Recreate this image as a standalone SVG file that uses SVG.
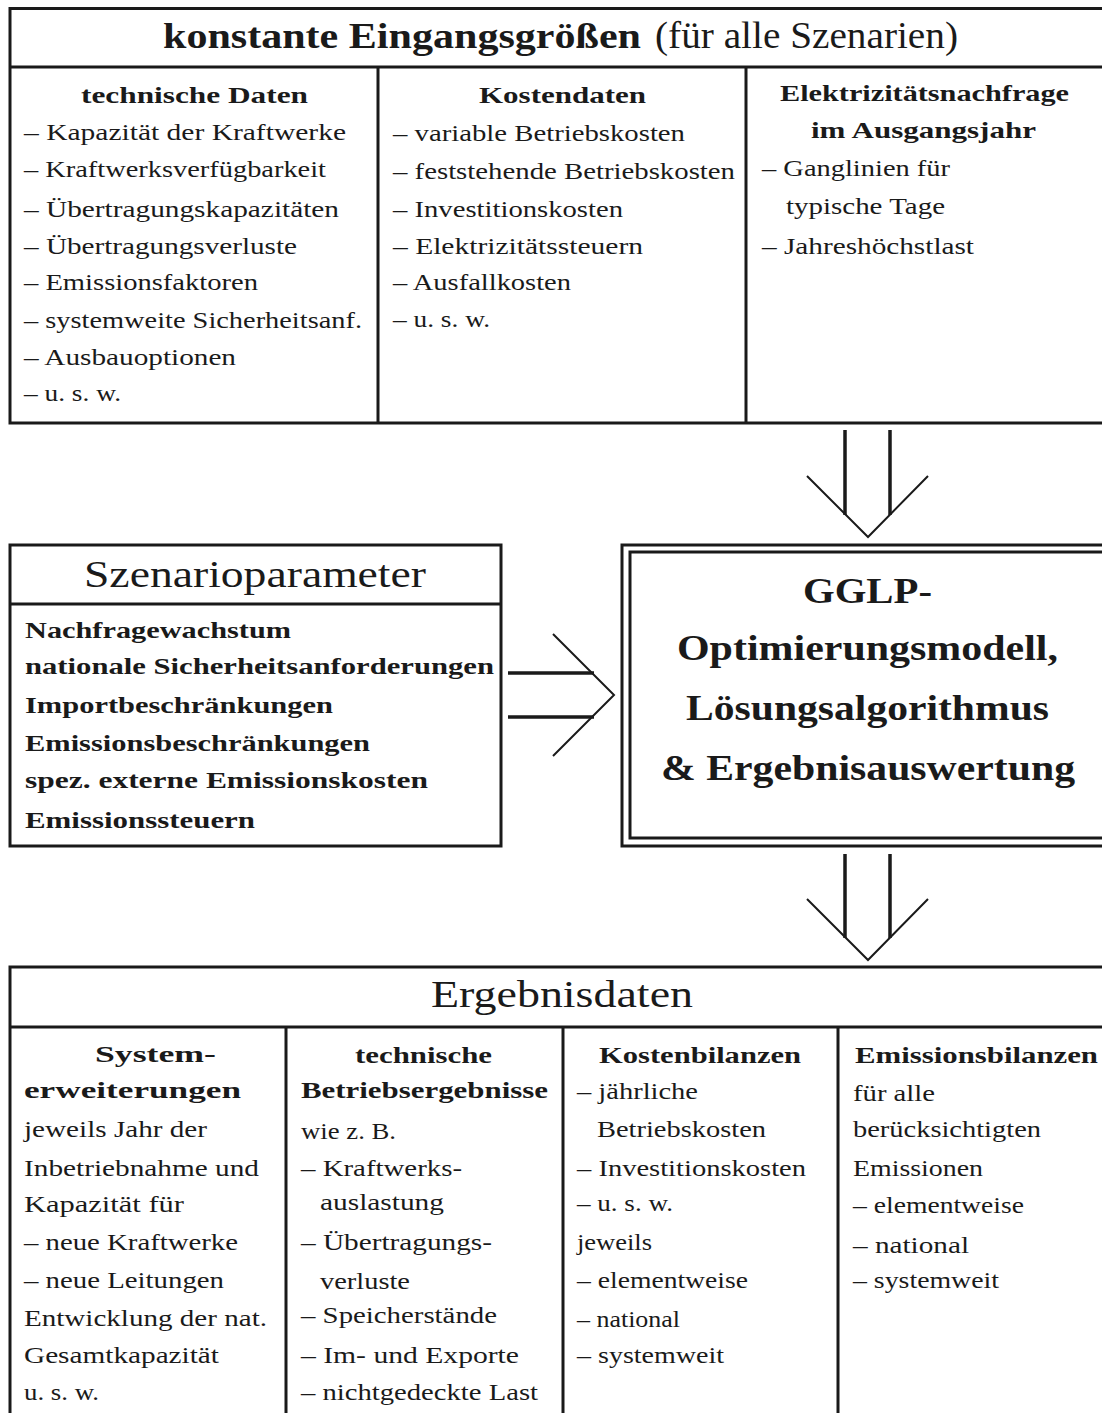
<svg xmlns="http://www.w3.org/2000/svg" width="1102" height="1413" viewBox="0 0 1102 1413">
<style>
.box{fill:none;stroke:#1a1a1a;stroke-width:3}
.thin{fill:none;stroke:#1a1a1a;stroke-width:2}
.shaft{fill:none;stroke:#1a1a1a;stroke-width:3.5}
text{font-family:"Liberation Serif","Times New Roman",serif;fill:#1a1a1a}
.t{font-size:24px}
.b{font-size:24px;font-weight:bold}
.h{font-size:37px}
.hb{font-size:36px;font-weight:bold}
</style>
<rect width="1102" height="1413" fill="#fff"/>

<g id="konstante">
<path class="box" d="M1104,8.5H10V423H1104M10,67H1104M378,67V423M746,67V423"/>
<text x="163" y="48" class="hb" textLength="478" lengthAdjust="spacingAndGlyphs">konstante Eingangsgrößen</text>
<text x="655" y="48" class="h" textLength="303" lengthAdjust="spacingAndGlyphs">(für alle Szenarien)</text>
<text x="81" y="103" class="b" textLength="227" lengthAdjust="spacingAndGlyphs">technische Daten</text>
<text x="24" y="140" class="t" textLength="322" lengthAdjust="spacingAndGlyphs">– Kapazität der Kraftwerke</text>
<text x="24" y="177" class="t" textLength="302" lengthAdjust="spacingAndGlyphs">– Kraftwerksverfügbarkeit</text>
<text x="24" y="217" class="t" textLength="315" lengthAdjust="spacingAndGlyphs">– Übertragungskapazitäten</text>
<text x="24" y="254" class="t" textLength="273" lengthAdjust="spacingAndGlyphs">– Übertragungsverluste</text>
<text x="24" y="290" class="t" textLength="234" lengthAdjust="spacingAndGlyphs">– Emissionsfaktoren</text>
<text x="24" y="328" class="t" textLength="338" lengthAdjust="spacingAndGlyphs">– systemweite Sicherheitsanf.</text>
<text x="24" y="365" class="t" textLength="212" lengthAdjust="spacingAndGlyphs">– Ausbauoptionen</text>
<text x="24" y="401" class="t" textLength="97" lengthAdjust="spacingAndGlyphs">– u. s. w.</text>
<text x="479" y="103" class="b" textLength="167" lengthAdjust="spacingAndGlyphs">Kostendaten</text>
<text x="393" y="141" class="t" textLength="292" lengthAdjust="spacingAndGlyphs">– variable Betriebskosten</text>
<text x="393" y="179" class="t" textLength="342" lengthAdjust="spacingAndGlyphs">– feststehende Betriebskosten</text>
<text x="393" y="217" class="t" textLength="230" lengthAdjust="spacingAndGlyphs">– Investitionskosten</text>
<text x="393" y="254" class="t" textLength="250" lengthAdjust="spacingAndGlyphs">– Elektrizitätssteuern</text>
<text x="393" y="290" class="t" textLength="178" lengthAdjust="spacingAndGlyphs">– Ausfallkosten</text>
<text x="393" y="327" class="t" textLength="97" lengthAdjust="spacingAndGlyphs">– u. s. w.</text>
<text x="780" y="101" class="b" textLength="289" lengthAdjust="spacingAndGlyphs">Elektrizitätsnachfrage</text>
<text x="811" y="138" class="b" textLength="225" lengthAdjust="spacingAndGlyphs">im Ausgangsjahr</text>
<text x="762" y="176" class="t" textLength="188" lengthAdjust="spacingAndGlyphs">– Ganglinien für</text>
<text x="786" y="214" class="t" textLength="159" lengthAdjust="spacingAndGlyphs">typische Tage</text>
<text x="762" y="254" class="t" textLength="212" lengthAdjust="spacingAndGlyphs">– Jahreshöchstlast</text>
</g>

<g id="szenario">
<path class="box" d="M10,545H501V846H10ZM10,604H501"/>
<text x="84" y="587" class="h" textLength="342" lengthAdjust="spacingAndGlyphs">Szenarioparameter</text>
<text x="25" y="638" class="b" textLength="266" lengthAdjust="spacingAndGlyphs">Nachfragewachstum</text>
<text x="25" y="674" class="b" textLength="469" lengthAdjust="spacingAndGlyphs">nationale Sicherheitsanforderungen</text>
<text x="25" y="713" class="b" textLength="308" lengthAdjust="spacingAndGlyphs">Importbeschränkungen</text>
<text x="25" y="751" class="b" textLength="345" lengthAdjust="spacingAndGlyphs">Emissionsbeschränkungen</text>
<text x="25" y="788" class="b" textLength="403" lengthAdjust="spacingAndGlyphs">spez. externe Emissionskosten</text>
<text x="25" y="828" class="b" textLength="230" lengthAdjust="spacingAndGlyphs">Emissionssteuern</text>
</g>

<g id="gglp">
<path class="box" d="M1104,545H622V846H1104M1104,552H630V838H1104"/>
<text x="803" y="603" class="hb" textLength="129" lengthAdjust="spacingAndGlyphs">GGLP-</text>
<text x="677" y="660" class="hb" textLength="381" lengthAdjust="spacingAndGlyphs">Optimierungsmodell,</text>
<text x="686" y="720" class="hb" textLength="363" lengthAdjust="spacingAndGlyphs">Lösungsalgorithmus</text>
<text x="661" y="780" class="hb" textLength="414" lengthAdjust="spacingAndGlyphs">&amp; Ergebnisauswertung</text>
</g>

<g id="ergebnis">
<path class="box" d="M10,1414V967H1104M10,1027H1104M286,1027V1414M563,1027V1414M838,1027V1414"/>
<text x="431" y="1007" class="h" textLength="262" lengthAdjust="spacingAndGlyphs">Ergebnisdaten</text>
<text x="95" y="1062" class="b" textLength="121" lengthAdjust="spacingAndGlyphs">System-</text>
<text x="24" y="1098" class="b" textLength="217" lengthAdjust="spacingAndGlyphs">erweiterungen</text>
<text x="24" y="1137" class="t" textLength="183" lengthAdjust="spacingAndGlyphs">jeweils Jahr der</text>
<text x="24" y="1176" class="t" textLength="235" lengthAdjust="spacingAndGlyphs">Inbetriebnahme und</text>
<text x="24" y="1212" class="t" textLength="160" lengthAdjust="spacingAndGlyphs">Kapazität für</text>
<text x="24" y="1250" class="t" textLength="214" lengthAdjust="spacingAndGlyphs">– neue Kraftwerke</text>
<text x="24" y="1288" class="t" textLength="200" lengthAdjust="spacingAndGlyphs">– neue Leitungen</text>
<text x="24" y="1326" class="t" textLength="243" lengthAdjust="spacingAndGlyphs">Entwicklung der nat.</text>
<text x="24" y="1363" class="t" textLength="195" lengthAdjust="spacingAndGlyphs">Gesamtkapazität</text>
<text x="24" y="1400" class="t" textLength="75" lengthAdjust="spacingAndGlyphs">u. s. w.</text>

<text x="355" y="1063" class="b" textLength="137" lengthAdjust="spacingAndGlyphs">technische</text>
<text x="301" y="1098" class="b" textLength="247" lengthAdjust="spacingAndGlyphs">Betriebsergebnisse</text>
<text x="301" y="1139" class="t" textLength="95" lengthAdjust="spacingAndGlyphs">wie z. B.</text>
<text x="301" y="1176" class="t" textLength="161" lengthAdjust="spacingAndGlyphs">– Kraftwerks-</text>
<text x="320" y="1210" class="t" textLength="124" lengthAdjust="spacingAndGlyphs">auslastung</text>
<text x="301" y="1250" class="t" textLength="191" lengthAdjust="spacingAndGlyphs">– Übertragungs-</text>
<text x="320" y="1289" class="t" textLength="90" lengthAdjust="spacingAndGlyphs">verluste</text>
<text x="301" y="1323" class="t" textLength="196" lengthAdjust="spacingAndGlyphs">– Speicherstände</text>
<text x="301" y="1363" class="t" textLength="218" lengthAdjust="spacingAndGlyphs">– Im- und Exporte</text>
<text x="301" y="1400" class="t" textLength="237" lengthAdjust="spacingAndGlyphs">– nichtgedeckte Last</text>

<text x="599" y="1063" class="b" textLength="202" lengthAdjust="spacingAndGlyphs">Kostenbilanzen</text>
<text x="577" y="1099" class="t" textLength="121" lengthAdjust="spacingAndGlyphs">– jährliche</text>
<text x="597" y="1137" class="t" textLength="169" lengthAdjust="spacingAndGlyphs">Betriebskosten</text>
<text x="577" y="1176" class="t" textLength="229" lengthAdjust="spacingAndGlyphs">– Investitionskosten</text>
<text x="577" y="1211" class="t" textLength="96" lengthAdjust="spacingAndGlyphs">– u. s. w.</text>
<text x="577" y="1250" class="t" textLength="75" lengthAdjust="spacingAndGlyphs">jeweils</text>
<text x="577" y="1288" class="t" textLength="171" lengthAdjust="spacingAndGlyphs">– elementweise</text>
<text x="577" y="1327" class="t" textLength="103" lengthAdjust="spacingAndGlyphs">– national</text>
<text x="577" y="1363" class="t" textLength="147" lengthAdjust="spacingAndGlyphs">– systemweit</text>

<text x="855" y="1063" class="b" textLength="243" lengthAdjust="spacingAndGlyphs">Emissionsbilanzen</text>
<text x="853" y="1101" class="t" textLength="82" lengthAdjust="spacingAndGlyphs">für alle</text>
<text x="853" y="1137" class="t" textLength="188" lengthAdjust="spacingAndGlyphs">berücksichtigten</text>
<text x="853" y="1176" class="t" textLength="130" lengthAdjust="spacingAndGlyphs">Emissionen</text>
<text x="853" y="1213" class="t" textLength="171" lengthAdjust="spacingAndGlyphs">– elementweise</text>
<text x="853" y="1253" class="t" textLength="116" lengthAdjust="spacingAndGlyphs">– national</text>
<text x="853" y="1288" class="t" textLength="146" lengthAdjust="spacingAndGlyphs">– systemweit</text>
</g>

<g id="connectors">
<path class="shaft" d="M845,430V515M890,430V515"/>
<path class="thin" d="M807,476L868,537L928,476"/>
<path class="shaft" d="M508,673H594M508,717H594"/>
<path class="thin" d="M553,634L614,695L553,756"/>
<path class="shaft" d="M845,854V938M890,854V938"/>
<path class="thin" d="M807,899L868,960L928,899"/>
</g>
</svg>
